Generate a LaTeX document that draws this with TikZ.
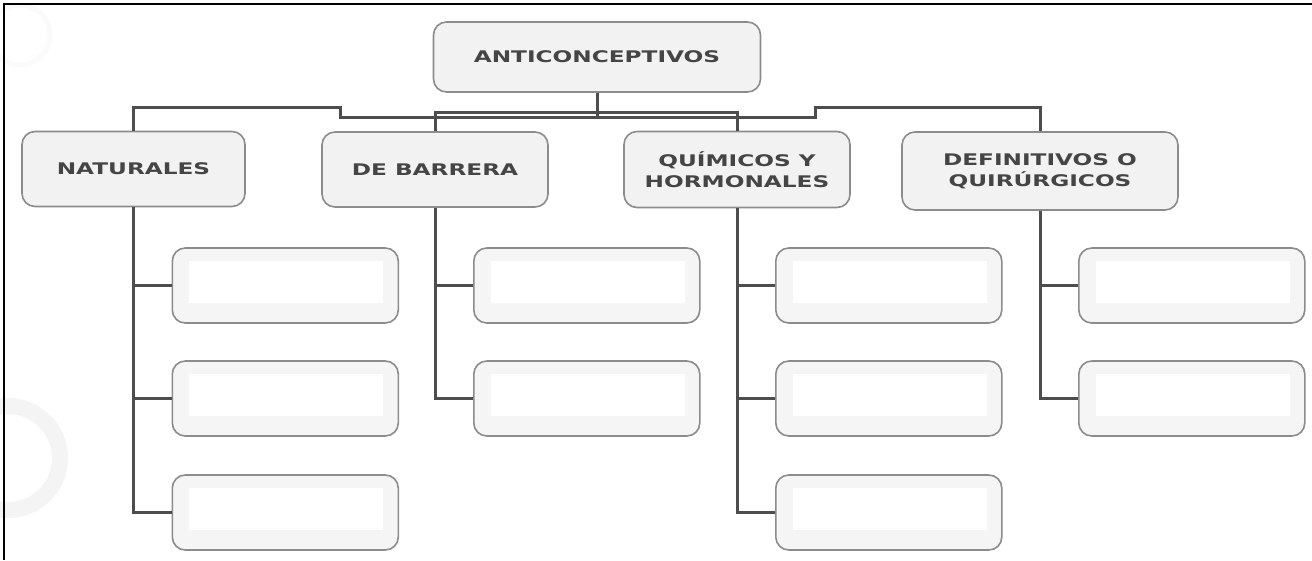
\documentclass[tikz,border=0pt]{standalone}
\usepackage{fontspec}
\usepackage{tikz}
\usetikzlibrary{calc,positioning}
\newfontfamily\kopfont[FakeStretch=1.45]{DejaVu Sans}
\definecolor{rand}{HTML}{8C8C8C}
\definecolor{vlak}{HTML}{F2F2F2}
\definecolor{lijnkleur}{HTML}{4D4D4D}
\definecolor{tekstkleur}{HTML}{454545}
\tikzset{
    kop/.style={draw=rand, line width=1.6pt, fill=vlak, rounded corners=13pt,
        font=\kopfont\bfseries\fontsize{16}{21}\selectfont, text=tekstkleur, align=center},
    leeg/.style={draw=rand, line width=1.6pt, fill=vlak!80!white, rounded corners=13pt,
        minimum width=226pt, minimum height=75pt, anchor=west,
        path picture={\fill[white, sharp corners] ([shift={(17pt,-13pt)}]path picture bounding box.north west)
            rectangle ([shift={(-15pt,20pt)}]path picture bounding box.south east);}},
    lijn/.style={draw=lijnkleur, line width=3pt}
}
\NewDocumentCommand{\vakje}{m m m}{ % ouder, naam, hoogte
    \node[leeg] (#2) at ($(#1.south |- 0,#3)+(38,0)$) {};
    \draw[lijn] (#1.south) |- (#2.west);
}

\begin{document}
\begin{tikzpicture}[x=1pt, y=-1pt]
    \useasboundingbox (0,0) rectangle (1312,560);
    \fill[white] (0,0) rectangle (1312,560);
    % watermerk links
    \draw[gray!9, line width=16pt] (8,458) circle (52);
    \draw[gray!4, line width=5pt] (20,35) circle (30);
    % kader
    \draw[black, line width=2.5pt] (1312,4) -- (4,4) -- (4,560);

    \node[kop, minimum width=327pt, minimum height=70pt] (root) at (597,57) {ANTICONCEPTIVOS};
    \node[kop, minimum width=223pt, minimum height=75pt] (nat) at (133.5,169) {NATURALES};
    \node[kop, minimum width=226pt, minimum height=75pt] (bar) at (435,169.5) {DE BARRERA};
    \node[kop, minimum width=226pt, minimum height=76pt] (qui) at (737,169.5) {QUÍMICOS Y\\HORMONALES};
    \node[kop, minimum width=276pt, minimum height=78pt] (def) at (1040,171) {DEFINITIVOS O\\QUIRÚRGICOS};

    \coordinate (hub) at (597,117);
    \coordinate (kL) at (340,117);
    \coordinate (kR) at (815,117);
    \draw[lijn] (root.south) -- (hub);
    \draw[lijn] (nat.north) |- ($(kL)+(0,-10)$) -- (kL) -- (kR) -- ($(kR)+(0,-10)$) -| (def.north);
    \draw[lijn] (bar.north) |- ($(hub)+(0,-5)$) -| (qui.north);

    \vakje{nat}{n1}{285.5}
    \vakje{nat}{n2}{398.5}
    \vakje{nat}{n3}{512.5}
    \vakje{bar}{b1}{285.5}
    \vakje{bar}{b2}{398.5}
    \vakje{qui}{q1}{285.5}
    \vakje{qui}{q2}{398.5}
    \vakje{qui}{q3}{512.5}
    \vakje{def}{d1}{285.5}
    \vakje{def}{d2}{398.5}
\end{tikzpicture}
\end{document}
